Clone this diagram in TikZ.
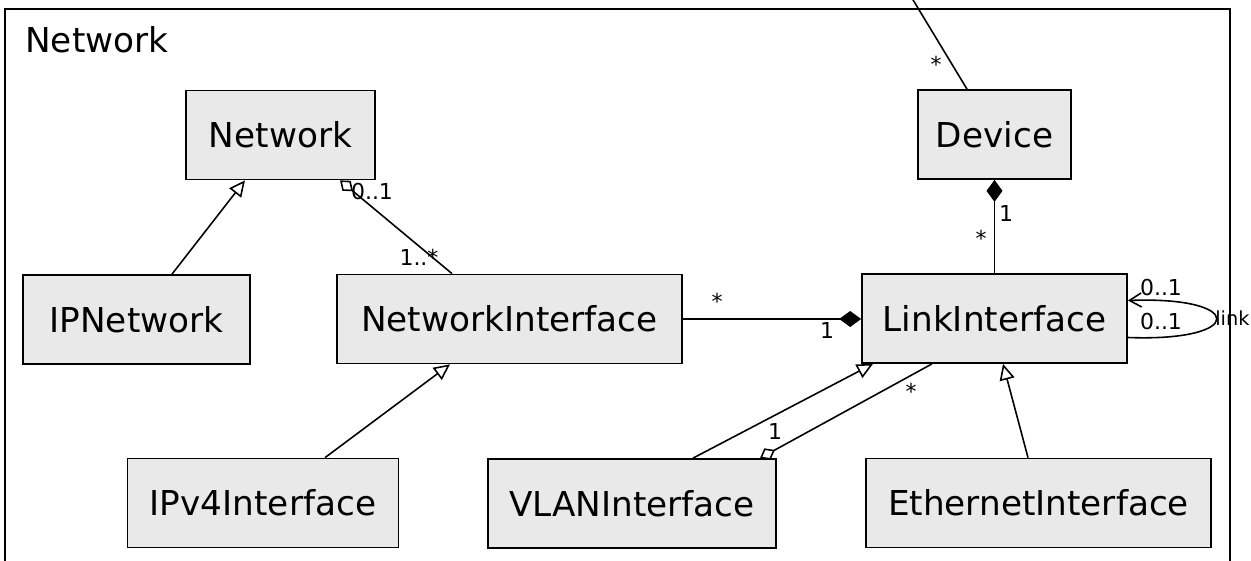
\documentclass[tikz,border=0pt]{standalone}
\usepackage{fontspec}
\setmainfont{DejaVu Sans}
\usetikzlibrary{arrows.meta,calc}
\definecolor{boxgray}{RGB}{233,233,233}
\tikzset{
  cls/.style={draw, fill=boxgray, line width=1pt, inner sep=0pt,
    minimum height=1.78cm, font=\fontsize{19.5}{23}\selectfont},
  assoc/.style={line width=0.9pt},
  every label/.style={font=\fontsize{12.5}{14}\selectfont, inner sep=0pt},
  gen/.style={assoc, -{Triangle[open, length=0.32cm, width=0.3cm]}},
  comp/.style={assoc, -{Diamond[length=0.44cm, width=0.32cm]}},
  aggr/.style={assoc, {Diamond[open, length=0.34cm, width=0.26cm]}-},
}
\begin{document}
\begin{tikzpicture}[x=0.02cm, y=-0.02cm]
    %\draw[very thin,color=gray] (0,0) grid[step=50] (1251,561);
    \useasboundingbox (0,0) rectangle (1251,561);
    \draw[line width=1pt] (5,600) -- (5,9) -- (1230,9) -- (1230,600);
    \node[anchor=west, inner sep=0pt, font=\fontsize{19.5}{23}\selectfont] (title) at (25,40) {Network};

    \node[cls, minimum width=3.78cm] (net) at (280.5,135) {Network};
    \node[cls, minimum width=4.54cm] (ipnet) at (136.5,319.5) {IPNetwork};
    \node[cls, minimum width=6.9cm] (nif) at (509.5,319) {NetworkInterface};
    \node[cls, minimum width=5.42cm] (ipv4) at (263,503) {IPv4Interface};
    \node[cls, minimum width=5.76cm] (vlan) at (632,503.5) {VLANInterface};
    \node[cls, minimum width=6.9cm] (eth) at (1038.5,503) {EthernetInterface};
    \node[cls, minimum width=3.06cm] (dev) at (994.5,134.5) {Device};
    \node[cls, minimum width=5.3cm] (lif) at (994.5,318.5) {LinkInterface};
    \coordinate (up) at (901,-20);

    \draw[gen] ($(ipnet.north)+(35.5,0)$) -- ($(net.south)+(-35.5,0)$);
    \draw[aggr] ($(net.south)+(59.5,0)$) -- ($(nif.north)+(-57.5,0)$);
    \draw[gen] ($(ipv4.north)+(62,0)$) -- ($(nif.south)+(-59.5,0)$);
    \draw[comp] (nif.east) -- (nif.east -| lif.west);
    \draw[comp] (lif.north) -- (dev.south);
    \draw[assoc] ($(dev.north)+(-27.5,0)$) -- (up);
    \draw[assoc, -{Straight Barb[length=0.24cm, width=0.28cm]}] ($(lif.east)+(0,19)$)
        .. controls (1246,342) and (1246,296) .. ($(lif.east)+(0,-18)$);
    \draw[gen] ($(vlan.north)+(61,0)$) -- ($(lif.south)+(-121.5,0)$);
    \draw[aggr] ($(vlan.north)+(128,0)$) -- ($(lif.south)+(-62.5,0)$);
    \draw[gen] ($(eth.north)+(-10.5,0)$) -- ($(lif.south)+(8.5,0)$);

    \coordinate [label=center:0..1] (m1) at (372,192);
    \coordinate [label=center:1..*] (m2) at (419,257);
    \coordinate [label=center:*] (m3) at (717,301);
    \coordinate [label=center:1] (m4) at (827,330);
    \coordinate [label=center:1] (m5) at (1006,213);
    \coordinate [label=center:*] (m6) at (981,238);
    \coordinate [label=center:*] (m7) at (936,64);
    \coordinate [label=center:0..1] (m8) at (1161,288);
    \coordinate [label=center:0..1] (m9) at (1161,322);
    \coordinate [label={[label distance=0pt, font=\fontsize{11}{13}\selectfont]right:link}] (m10) at (1215,318);
    \coordinate [label=center:1] (m11) at (775,431);
    \coordinate [label=center:*] (m12) at (911,391);

\end{tikzpicture}
\end{document}
